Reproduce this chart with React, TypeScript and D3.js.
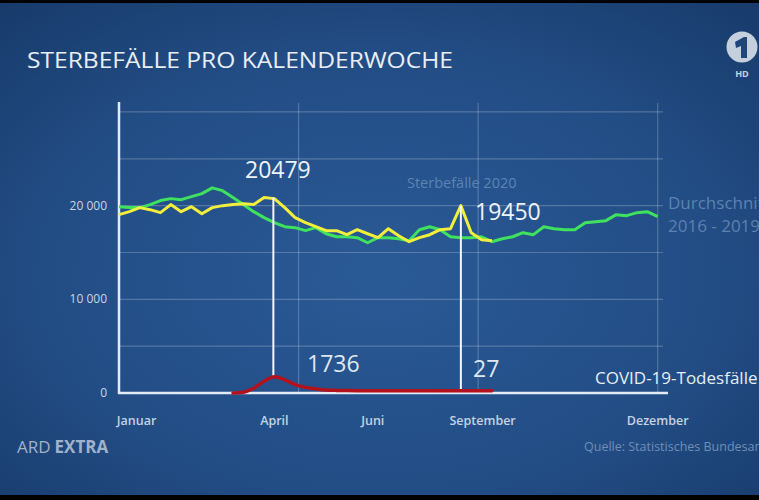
import React from "react";
import * as d3 from "d3";

const W = 759;
const H = 500;

const title = "STERBEFÄLLE PRO KALENDERWOCHE";
// Weekly values, index 0 = KW 1
const avg2016to2019 = [
  19890, 19790, 19790, 20110, 20540, 20750, 20640, 20960, 21280, 21900,
  21600, 20860, 20110, 19360, 18720, 18180, 17750, 17650, 17330, 17650,
  17000, 16680, 16680, 16580, 16040, 16580, 16580, 16470, 16260, 17430,
  17750, 17430, 16680, 16580, 16580, 16680, 16150, 16470, 16680, 17110,
  16900, 17750, 17540, 17430, 17430, 18180, 18290, 18400, 19040, 18930,
  19250, 19360, 18820,
];
const deaths2020 = [
  19040, 19360, 19790, 19570, 19250, 20110, 19360, 19890, 19140, 19790,
  20000, 20110, 20210, 20110, 20860, 20750, 19790, 18720, 18180, 17750,
  17330, 17330, 16900, 17430, 17000, 16580, 17540, 16790, 16150, 16580,
  16900, 17430, 17540, 20000, 17110, 16360, 16260,
];
const covidStart = 11;
const covidDeaths = [
  0, 80, 500, 1250, 1736, 1400, 900, 600, 450, 330, 280, 260, 250, 250,
  250, 250, 250, 250, 250, 250, 250, 250, 250, 250, 250, 250,
];
const yTicks = [0, 10000, 20000];
const yTickLabels = ["0", "10 000", "20 000"];
const gridValues = [5000, 10000, 15000, 20000, 25000, 30000];
const monthLabels = ["Januar", "April", "Juni", "September", "Dezember"];
const monthPos = [1.7, 15, 24.5, 35.1, 52];
const annotations = [
  { idx: 14.9, text: "20479", top: 20860, bottom: 1736, lx: 245, ly: 178 },
  { idx: 33, text: "19450", top: 20000, bottom: 250, lx: 475, ly: 220 },
];
const covidLabels = [
  { text: "1736", lx: 307, ly: 372 },
  { text: "27", lx: 473, ly: 377 },
];

const FONT = "'Open Sans', 'Noto Sans', sans-serif";

export default function App() {
  const x = d3.scaleLinear().domain([0, 52]).range([119, 657.7]);
  const y = d3.scaleLinear().domain([0, 31000]).range([393, 102.6]);

  const lineGen = d3
    .line<number>()
    .x((_, i) => x(i))
    .y((d) => y(d))
    .curve(d3.curveLinear);
  const covidGen = d3
    .line<number>()
    .x((_, i) => x(i + covidStart))
    .y((d) => y(d))
    .curve(d3.curveMonotoneX);

  const thirds = [52 / 3, 104 / 3, 52];

  return (
    <svg
      width={W}
      height={H}
      style={{ position: "absolute", left: 0, top: 0, display: "block" }}
    >
      <defs>
        <radialGradient id="bg" cx="0.5" cy="0.55" r="0.75">
          <stop offset="0" stopColor="#2a5a96" />
          <stop offset="0.6" stopColor="#224c84" />
          <stop offset="1" stopColor="#173a69" />
        </radialGradient>
      </defs>
      <rect x={0} y={0} width={W} height={H} fill="url(#bg)" />
      <rect x={0} y={0} width={W} height={3} fill="#000" />
      <rect x={0} y={495} width={W} height={5} fill="#000" />

      <text
        x={27}
        y={68}
        fill="#e9eef5"
        fontFamily={FONT}
        fontSize={22}
        textLength={426}
        lengthAdjust="spacingAndGlyphs"
      >
        {title}
      </text>

      {/* ARD logo */}
      <circle cx={742} cy={47} r={15.5} fill="#c5d0de" />
      <path
        d="M735 42 L744 37 L747 37 L747 58 L741 58 L741 46 L736 48 Z"
        fill="#1f4679"
      />
      <text
        x={742}
        y={77}
        textAnchor="middle"
        fill="#c5d0de"
        fontFamily={FONT}
        fontWeight={700}
        fontSize={9}
      >
        HD
      </text>

      {/* grid */}
      {gridValues.map((v) => (
        <line
          key={"g" + v}
          x1={119}
          x2={663}
          y1={y(v)}
          y2={y(v)}
          stroke="#ffffff"
          strokeOpacity={0.22}
          strokeWidth={1.2}
        />
      ))}
      {thirds.map((t, i) => (
        <line
          key={"v" + i}
          x1={x(t)}
          x2={x(t)}
          y1={103}
          y2={393}
          stroke="#ffffff"
          strokeOpacity={0.22}
          strokeWidth={1.2}
        />
      ))}

      {/* axes */}
      <line x1={119} x2={119} y1={102} y2={394} stroke="#e3ebf4" strokeWidth={2.5} />
      <line x1={118} x2={668} y1={393} y2={393} stroke="#e3ebf4" strokeWidth={2.5} />

      {yTicks.map((v, i) => (
        <text
          key={"yt" + v}
          x={107}
          y={y(v) + 4}
          textAnchor="end"
          fill="#c9d6e6"
          fontFamily={FONT}
          fontSize={12}
        >
          {yTickLabels[i]}
        </text>
      ))}

      {monthLabels.map((m, i) => (
        <text
          key={m}
          x={x(monthPos[i])}
          y={425}
          textAnchor="middle"
          fill="#c4d2e3"
          fontFamily={FONT}
          fontWeight={600}
          fontSize={12.5}
        >
          {m}
        </text>
      ))}

      {/* lines */}
      <path
        d={lineGen(avg2016to2019) || ""}
        fill="none"
        stroke="#3fe25e"
        strokeWidth={3}
        strokeLinejoin="round"
      />
      <path
        d={lineGen(deaths2020) || ""}
        fill="none"
        stroke="#f1ee3c"
        strokeWidth={3}
        strokeLinejoin="round"
      />

      {/* marker lines */}
      {annotations.map((a) => (
        <line
          key={"m" + a.text}
          x1={x(a.idx)}
          x2={x(a.idx)}
          y1={y(a.top)}
          y2={y(a.bottom)}
          stroke="#f4f7fb"
          strokeWidth={2}
        />
      ))}

      <path
        d={covidGen(covidDeaths) || ""}
        fill="none"
        stroke="#b3121d"
        strokeWidth={3.5}
        strokeLinecap="round"
      />

      {annotations.map((a) => (
        <text
          key={"t" + a.text}
          x={a.lx}
          y={a.ly}
          fill="#eef3f8"
          fontFamily={FONT}
          fontSize={23}
        >
          {a.text}
        </text>
      ))}
      {covidLabels.map((a) => (
        <text
          key={"c" + a.text}
          x={a.lx}
          y={a.ly}
          fill="#dfe8f2"
          fontFamily={FONT}
          fontSize={23}
        >
          {a.text}
        </text>
      ))}

      <text x={407} y={188} fill="#5c83b3" fontFamily={FONT} fontSize={14.5}>
        Sterbefälle 2020
      </text>
      <text x={668} y={209} fill="#5d82b0" fontFamily={FONT} fontSize={17}>
        Durchschnitt
      </text>
      <text x={668} y={232} fill="#5d82b0" fontFamily={FONT} fontSize={17}>
        2016 - 2019
      </text>
      <text x={595} y={384} fill="#e6eef6" fontFamily={FONT} fontSize={17}>
        COVID-19-Todesfälle
      </text>
      <text x={584} y={451} fill="#6f8fb7" fontFamily={FONT} fontSize={12.5}>
        Quelle: Statistisches Bundesamt
      </text>

      <text x={17} y={453} fill="#9fb3cb" fontFamily={FONT} fontSize={17}>
        <tspan>ARD</tspan>
        <tspan dx={4} fontWeight={700}>
          EXTRA
        </tspan>
      </text>
    </svg>
  );
}
